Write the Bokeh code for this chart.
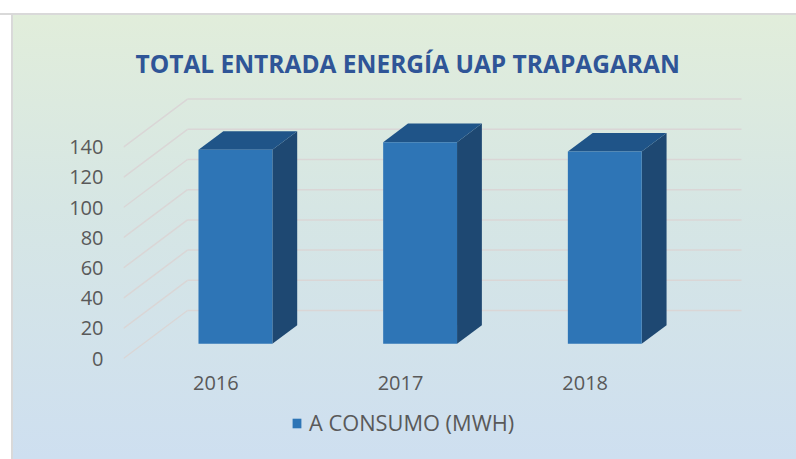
from bokeh.plotting import figure
from bokeh.models import Range1d, FixedTicker, Legend, LegendItem, Title
from bokeh.embed import file_html
from bokeh.resources import INLINE

# ---- data ----
years = ["2016", "2017", "2018"]
consumo = [128.5, 133.5, 127.3]
y_ticks = [0, 20, 40, 60, 80, 100, 120, 140]
title_text = "TOTAL ENTRADA ENERGÍA UAP TRAPAGARAN"
series_name = "A CONSUMO (MWH)"

# ---- 3D projection style parameters ----
DX = 0.3466      # floor depth along x (x units)
DY = 31.8        # floor depth along y (value units)
F0, F1 = 0.306, 0.694   # bar depth span (fraction of floor depth)
BAR_W = 0.4

x_pos = list(range(len(years)))
x_lo, x_hi = -0.5, len(years) - 0.5

p = figure(frame_width=622, frame_height=362, output_backend="svg", toolbar_location=None,
           x_range=Range1d(-0.5, 2.868), y_range=Range1d(-62.25, 177.5),
           min_border_left=123, min_border_right=51, min_border_top=90,
           min_border_bottom=7)

p.background_fill_color = None
p.border_fill_color = None
p.outline_line_color = None
p.styles = {
    "background": "linear-gradient(to bottom, #ffffff 0px, #ffffff 13px, #d9d9d9 13px, #d9d9d9 15px, transparent 15px),"
                  "linear-gradient(to right, #ffffff 0px, #ffffff 11px, #d9d9d9 11px, #d9d9d9 13px, transparent 13px),"
                  "linear-gradient(to bottom, #e2eeda 0%, #d6e6e4 45%, #cedff0 100%)"
}
p.xgrid.visible = False
p.ygrid.visible = False

# ---- walls' gridlines (derived from the tick values) ----
side_xs = [[x_lo, x_lo + DX] for v in y_ticks]
side_ys = [[v, v + DY] for v in y_ticks]
back_xs = [[x_lo + DX, x_hi + DX] for v in y_ticks]
back_ys = [[v + DY, v + DY] for v in y_ticks]
p.multi_line(side_xs + back_xs, side_ys + back_ys, line_color="#dad6d6", line_width=1.5)

# ---- 3D bars ----
top_xs, top_ys, side_bx, side_by = [], [], [], []
for i, v in zip(x_pos, consumo):
    l, r = i - BAR_W / 2, i + BAR_W / 2
    top_xs.append([l + F0 * DX, l + F1 * DX, r + F1 * DX, r + F0 * DX])
    top_ys.append([v + F0 * DY, v + F1 * DY, v + F1 * DY, v + F0 * DY])
    side_bx.append([r + F0 * DX, r + F1 * DX, r + F1 * DX, r + F0 * DX])
    side_by.append([F0 * DY, F1 * DY, v + F1 * DY, v + F0 * DY])

p.patches(side_bx, side_by, fill_color="#1e4872", line_color=None)
p.patches(top_xs, top_ys, fill_color="#1f5488", line_color=None)
front = p.vbar(x=[i + F0 * DX for i in x_pos], width=BAR_W, bottom=F0 * DY,
               top=[v + F0 * DY for v in consumo],
               fill_color="#2e75b6", line_color=None)

# ---- axes ----
for ax in (p.xaxis[0], p.yaxis[0]):
    ax.axis_line_color = None
    ax.major_tick_line_color = None
    ax.minor_tick_line_color = None
    ax.major_label_text_color = "#595959"
    ax.major_label_text_font = "Open Sans"

p.yaxis.ticker = FixedTicker(ticks=y_ticks)
p.yaxis.major_label_text_font_size = "20px"
p.yaxis.major_label_standoff = 14

p.xaxis.ticker = FixedTicker(ticks=x_pos)
p.xaxis.major_label_overrides = {i: y for i, y in zip(x_pos, years)}
p.xaxis.major_label_text_font_size = "20px"
p.xaxis.major_label_standoff = 11
p.xaxis.fixed_location = 0

# ---- title ----
p.title = Title(text=title_text, align="left", offset=12, text_font="Open Sans",
                text_font_size="24.5px", text_font_style="bold", text_color="#2f5597",
                standoff=22)

# ---- legend ----
legend = Legend(items=[LegendItem(label=series_name, renderers=[front])],
                orientation="horizontal", location=(168, 15),
                background_fill_alpha=0, border_line_alpha=0,
                label_text_font="Open Sans", label_text_font_size="21.8px",
                label_text_color="#595959", glyph_width=11, glyph_height=12,
                label_standoff=7, padding=0, margin=0, spacing=0)
p.add_layout(legend, "center")

open("out.html", "w").write(file_html(p, INLINE))
